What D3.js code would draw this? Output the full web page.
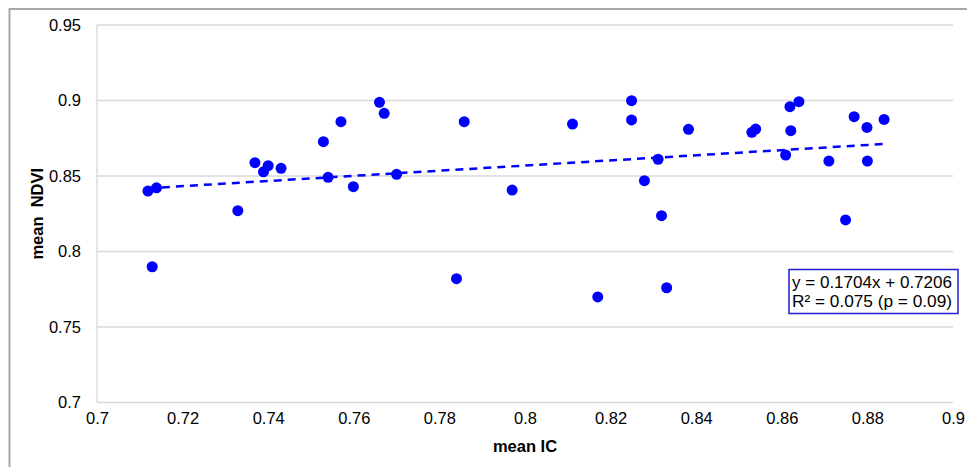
<!DOCTYPE html>
<html><head><meta charset="utf-8">
<script src="https://cdn.jsdelivr.net/npm/d3@7"></script>
<style>body{margin:0;background:#fff}svg{display:block;font-family:"Liberation Sans",Arial,sans-serif}</style>
</head><body><svg id="c" width="967" height="467"></svg>
<script>
const meanIC = [0.7119,0.7139,0.7129,0.7329,0.7369,0.7389,0.7400,0.7430,0.7529,0.7540,0.7570,0.7660,0.7671,0.7599,0.7700,0.7858,0.7840,0.7970,0.8111,0.8170,0.8249,0.8249,0.8279,0.8311,0.8319,0.8331,0.8382,0.8530,0.8539,0.8619,0.8640,0.8621,0.8609,0.8710,0.8769,0.8799,0.8839,0.8800,0.8749];
const meanNDVI = [0.8400,0.8422,0.7899,0.8270,0.8588,0.8528,0.8568,0.8551,0.8727,0.8491,0.8860,0.8988,0.8915,0.8429,0.8511,0.8860,0.7820,0.8407,0.8844,0.7699,0.8999,0.8871,0.8469,0.8611,0.8237,0.7760,0.8809,0.8789,0.8811,0.8959,0.8992,0.8800,0.8639,0.8599,0.8893,0.8822,0.8875,0.8599,0.8209];
const xTicks = [0.7,0.72,0.74,0.76,0.78,0.8,0.82,0.84,0.86,0.88,0.9];
const yTicks = [0.7,0.75,0.8,0.85,0.9,0.95];
const slope = 0.1704, intercept = 0.7206;
const eqLines = ["y = 0.1704x + 0.7206", "R² = 0.075 (p = 0.09)"];

const svg = d3.select("#c");
const L=97, R=953, T=25, B=402.5;
const x = d3.scaleLinear().domain([0.7,0.9]).range([L,R]);
const y = d3.scaleLinear().domain([0.7,0.95]).range([B,T]);

// outer frame
svg.append("rect").attr("x",9.5).attr("y",9).attr("width",1000).attr("height",500)
  .attr("fill","none").attr("stroke","#a6a6a6").attr("stroke-width",2);

// grid
svg.append("g").selectAll("line").data(yTicks).join("line")
  .attr("x1",L).attr("x2",R).attr("y1",d=>y(d)).attr("y2",d=>y(d))
  .attr("stroke","#d9d9d9").attr("stroke-width",1.3);
svg.append("line").attr("x1",L).attr("x2",L).attr("y1",T).attr("y2",B).attr("stroke","#d9d9d9").attr("stroke-width",1.3);

// axes labels
const yAxis = d3.axisLeft(y).tickValues(yTicks).tickSize(0).tickPadding(16).tickFormat(d=>String(+d.toFixed(2)));
const gy = svg.append("g").attr("transform",`translate(${L},0)`).call(yAxis);
gy.select(".domain").remove();
gy.selectAll("text").attr("font-size",16.5).attr("fill","#000").style("font-family","Liberation Sans, Arial, sans-serif");

const xAxis = d3.axisBottom(x).tickValues(xTicks).tickSize(0).tickPadding(10).tickFormat(d=>String(+d.toFixed(2)));
const gx = svg.append("g").attr("transform",`translate(0,${B})`).call(xAxis);
gx.select(".domain").remove();
gx.selectAll("text").attr("font-size",16.5).attr("fill","#000").style("font-family","Liberation Sans, Arial, sans-serif");

// titles
svg.append("text").attr("x",(L+R)/2).attr("y",452).attr("text-anchor","middle")
  .attr("font-size",16.5).attr("font-weight","bold").text("mean IC");
svg.append("text").attr("transform",`translate(43,${(T+B)/2}) rotate(-90)`).attr("text-anchor","middle")
  .attr("font-size",16.5).attr("font-weight","bold").style("white-space","pre").text("mean  NDVI");

// trend line
const xmin = d3.min(meanIC), xmax = d3.max(meanIC);
svg.append("line").attr("x1",x(xmin)).attr("x2",x(xmax))
  .attr("y1",y(slope*xmin+intercept)).attr("y2",y(slope*xmax+intercept))
  .attr("stroke","#0000ff").attr("stroke-width",2.5).attr("stroke-dasharray","8,6");

// points
svg.append("g").selectAll("circle").data(meanIC.map((d,i)=>[d,meanNDVI[i]])).join("circle")
  .attr("cx",d=>x(d[0])).attr("cy",d=>y(d[1])).attr("r",5.5).attr("fill","#0000ff");

// equation box
svg.append("rect").attr("x",789).attr("y",269.5).attr("width",169).attr("height",44)
  .attr("fill","#fff").attr("stroke","#1f1fd0").attr("stroke-width",1.5);
svg.append("g").selectAll("text").data(eqLines).join("text")
  .attr("x",792).attr("y",(d,i)=>288+i*19).attr("font-size",17.2).attr("textLength",160)
  .attr("lengthAdjust","spacingAndGlyphs").text(d=>d);
</script></body></html>
